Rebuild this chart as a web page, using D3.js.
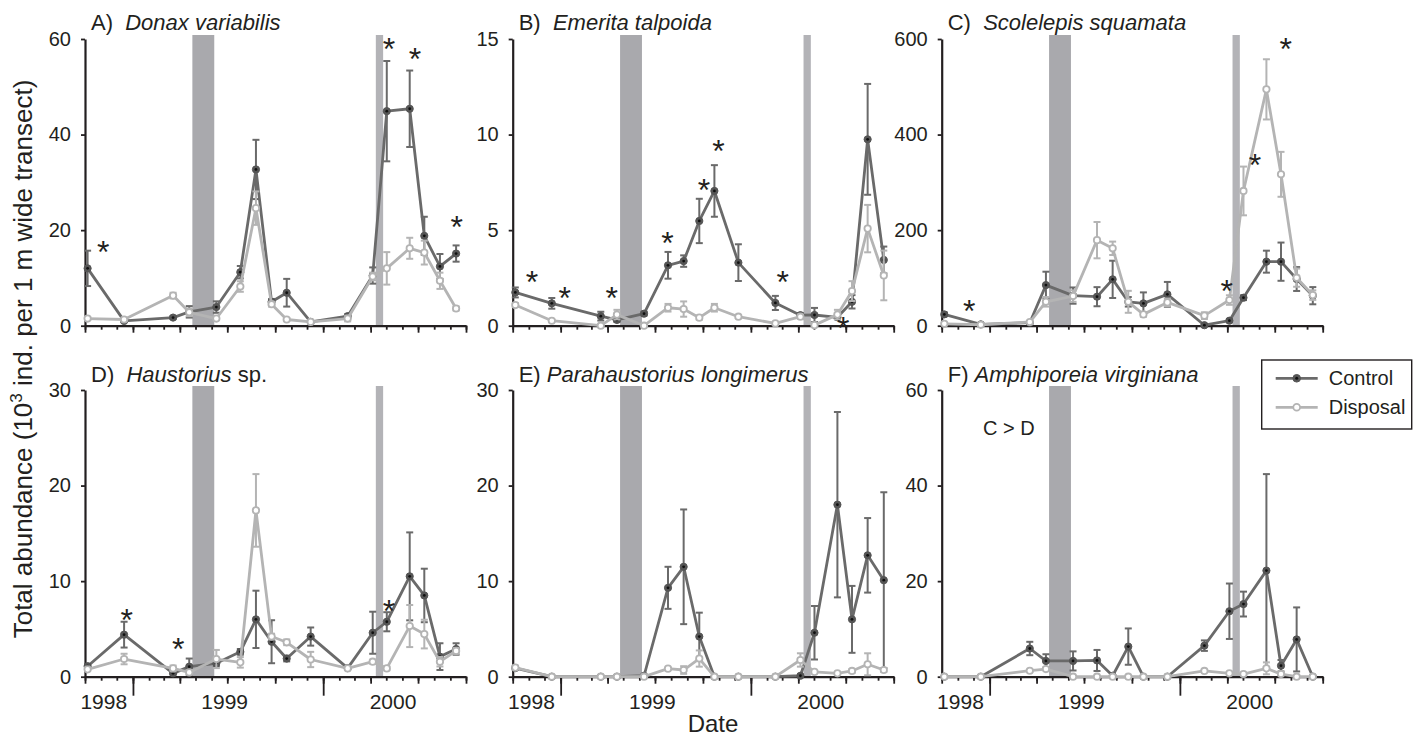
<!DOCTYPE html>
<html>
<head>
<meta charset="utf-8">
<script src="https://cdn.jsdelivr.net/npm/d3@7"></script>
<style>
  body { margin: 0; background: #fff; }
  svg { display: block; font-family: "Liberation Sans", Arial, Helvetica, sans-serif; }
</style>
</head>
<body>
<svg id="chart" width="1421" height="739"></svg>
<script>
// sampling dates shared by all six panels
const sampleDates = ["1998-10-06", "1998-12-15", "1999-03-19", "1999-04-19", "1999-06-10",
  "1999-07-26", "1999-08-25", "1999-09-24", "1999-10-23", "1999-12-08", "2000-02-17",
  "2000-04-05", "2000-05-02", "2000-06-15", "2000-07-13", "2000-08-12", "2000-09-12"];

// disposal periods (grey bands)
const disposalPeriods = [["1999-04-25", "1999-06-06"], ["2000-04-11", "2000-04-25"]];

const panelLetters = ["A)", "B)", "C)", "D)", "E)", "F)"];
const speciesNames = ["Donax variabilis", "Emerita talpoida", "Scolelepis squamata",
  "Haustorius", "Parahaustorius longimerus", "Amphiporeia virginiana"];
const speciesSuffix = ["", "", "", " sp.", "", ""];
const yMaxes = [60, 15, 600, 30, 30, 60];
const yTickValues = [[0, 20, 40, 60], [0, 5, 10, 15], [0, 200, 400, 600],
  [0, 10, 20, 30], [0, 10, 20, 30], [0, 20, 40, 60]];
const yearLabels = ["1998", "1999", "2000"];
const yearLabelDates = ["1998-11-06", "1999-06-26", "2000-05-14"];

// means and standard errors (10^3 ind.), one row per panel
const controlMean = [
  [12.0, 1.0, 1.7, 2.9, 3.9, 11.2, 32.7, 5.0, 6.9, 0.8, 2.0, 10.5, 44.9, 45.4, 18.8, 12.4, 15.1],
  [1.74, 1.17, 0.5, 0.3, 0.63, 3.16, 3.38, 5.48, 7.05, 3.3, 1.19, 0.55, 0.56, 0.44, 1.25, 9.75, 3.44],
  [23.7, 2.8, 6.3, 85, 63, 60.7, 97, 50, 46.7, 65.6, 1, 10.5, 58.6, 134, 134, 97.7, 62.8],
  [1.1, 4.4, 0.35, 1.05, 1.4, 2.6, 6.0, 3.66, 1.9, 4.2, 0.9, 4.6, 5.75, 10.5, 8.5, 2.1, 2.9],
  [0.9, 0, 0, 0, 0.1, 9.3, 11.5, 4.2, 0, 0, 0, 0.1, 4.6, 18.0, 6.0, 12.7, 10.1],
  [0, 0, 5.9, 3.3, 3.3, 3.4, 0.2, 6.3, 0, 0, 6.5, 13.7, 15.2, 22.2, 2.3, 7.8, 0]
];
const controlSE = [
  [3.7, 0.2, 0.3, 1.2, 1.2, 1.3, 6.2, 0.6, 2.9, 0.2, 0.4, 1.7, 10.5, 8.0, 4.0, 2.6, 1.7],
  [0.26, 0.28, 0.23, 0.1, 0.1, 0.7, 0.3, 1.16, 1.35, 0.96, 0.37, 0.1, 0.37, 0.1, 0.35, 2.9, 0.7],
  [4, 1, 2, 28, 17, 20, 39, 10, 23, 26, 2, 3, 5, 23, 40, 25, 18],
  [0.2, 1.35, 0.1, 0.85, 0.3, 0.3, 3.0, 2.25, 0.3, 0.95, 0.1, 2.2, 1.0, 4.6, 2.8, 1.4, 0.6],
  [0.2, 0, 0, 0, 0, 2.2, 6.0, 2.5, 0, 0, 0, 0, 2.8, 9.7, 3.5, 3.9, 9.2],
  [0, 0, 1.4, 1.4, 2.0, 2.2, 0, 3.8, 0, 0, 1.1, 5.8, 2.6, 20.2, 1.2, 6.7, 0]
];
const disposalMean = [
  [1.5, 1.3, 6.3, 2.8, 1.5, 8.2, 24.6, 4.5, 1.3, 0.8, 1.5, 10.3, 12.0, 16.2, 15.3, 9.4, 3.6],
  [1.08, 0.26, 0.0, 0.58, 0.0, 0.94, 0.87, 0.42, 0.94, 0.47, 0.12, 0.47, 0.03, 0.58, 1.81, 5.08, 2.63],
  [4, 2, 7.7, 50, 62, 179, 162, 50, 23.7, 48.8, 21, 53.7, 282, 494.6, 316.8, 100.5, 64],
  [0.77, 1.85, 0.87, 0.45, 1.85, 1.5, 17.4, 4.2, 3.6, 1.8, 0.87, 1.57, 0.87, 5.3, 4.46, 1.57, 2.7],
  [0.95, 0, 0, 0, 0, 0.84, 0.7, 1.9, 0, 0, 0, 1.75, 0.5, 0.35, 0.6, 1.3, 0.7],
  [0, 0, 1.25, 1.6, 0, 0, 0, 0, 0, 0, 1.2, 0.7, 0.55, 1.75, 0.55, 0, 0]
];
const disposalSE = [
  [0.3, 0.3, 0.6, 0.8, 0.3, 1.1, 3.5, 0.5, 0.3, 0.2, 0.6, 0.8, 3.4, 2.2, 2.5, 1.7, 0.4],
  [0.1, 0.05, 0, 0.25, 0, 0.2, 0.4, 0.1, 0.2, 0.08, 0.05, 0.1, 0.05, 0.25, 0.52, 1.24, 1.3],
  [2, 1, 2, 10, 12, 38, 14, 23, 5, 8, 7, 10, 51, 63, 47, 19, 10],
  [0.1, 0.55, 0.3, 0.1, 0.95, 0.55, 3.8, 0.3, 0.3, 0.8, 0.1, 0.2, 0.2, 2.2, 1.5, 0.5, 0.3],
  [0.2, 0, 0, 0, 0, 0.1, 0.4, 0.85, 0, 0, 0, 0.7, 0.1, 0.1, 0.2, 1.15, 0.2],
  [0, 0, 0.2, 0.2, 0, 0, 0, 0, 0, 0, 0.2, 0.2, 0.2, 1.25, 0.2, 0, 0]
];

// significance stars [date, height] per panel
const starMarks = [
  [["1998-11-05", 17.2], ["2000-05-06", 59.6], ["2000-06-25", 57.6], ["2000-09-13", 22.3]],
  [["1998-11-07", 2.74], ["1999-01-09", 1.9], ["1999-04-09", 1.9], ["1999-07-25", 4.78],
   ["1999-10-03", 7.53], ["1999-10-31", 9.58], ["2000-03-02", 2.74], ["2000-06-26", 0.3]],
  [["1998-11-23", 46.9], ["2000-03-31", 90], ["2000-05-24", 353.7], ["2000-07-22", 596.5]],
  [["1998-12-20", 6.8], ["1999-03-29", 3.8], ["2000-05-06", 7.7]],
  [],
  []
];
// text note in panel F
const noteText = ["", "", "", "", "", "C > D"];
const notePos = [null, null, null, null, null, ["1999-02-07", 50.6]];

const parse = d3.utcParse("%Y-%m-%d");
const dates = sampleDates.map(parse);

const svg = d3.select("#chart");
const colX = [85, 512.7, 941.7];
const rowY = [39, 390];
const plotW = 381, plotH = 286.7;
const ink = "#231f20";
const controlColor = "#6a6a6a";
const disposalColor = "#b4b4b4";

const x = d3.scaleUtc()
  .domain([parse("1998-10-01"), parse("2000-10-01")])
  .range([0, plotW]);

panelLetters.forEach((letter, i) => drawPanel(i));

function drawPanel(i) {
  const row = Math.floor(i / 3), col = i % 3;
  const g = svg.append("g").attr("transform", `translate(${colX[col]},${rowY[row]})`);
  const y = d3.scaleLinear().domain([0, yMaxes[i]]).range([plotH, 0]);

  // disposal bands
  g.selectAll("rect.band")
    .data(disposalPeriods)
    .enter().append("rect")
      .attr("x", d => x(parse(d[0])))
      .attr("width", d => x(parse(d[1])) - x(parse(d[0])))
      .attr("y", -4)
      .attr("height", plotH + 4)
      .attr("fill", (d, k) => k == 0 ? "#a9a9ad" : "#b3b3b7");

  // x axis: monthly minor ticks, quarterly major ticks, year ticks on the bottom row
  const minor = g.append("g").attr("transform", `translate(0,${plotH})`)
    .call(d3.axisBottom(x).ticks(d3.utcMonth.every(1)).tickSize(4).tickSizeOuter(0).tickFormat(""));
  const major = g.append("g").attr("transform", `translate(0,${plotH})`)
    .call(d3.axisBottom(x).ticks(d3.utcMonth.every(3)).tickSize(7).tickSizeOuter(0).tickFormat(""));
  minor.select(".domain").remove();
  major.select(".domain").attr("stroke-width", 2.2).attr("stroke", ink);
  if (row == 1) {
    const yrs = g.append("g").attr("transform", `translate(0,${plotH})`)
      .call(d3.axisBottom(x).tickValues([parse("1999-01-01"), parse("2000-01-01")])
        .tickSize(19).tickSizeOuter(0).tickFormat(""));
    yrs.select(".domain").remove();
    g.selectAll("text.year")
      .data(yearLabels)
      .enter().append("text")
        .attr("x", (d, k) => x(parse(yearLabelDates[k])))
        .attr("y", plotH + 32)
        .attr("text-anchor", "middle")
        .attr("font-size", 21)
        .attr("fill", ink)
        .text(d => d);
  }
  g.selectAll(".tick line").attr("stroke", ink).attr("stroke-width", 1.8);

  // y axis
  const ya = g.append("g")
    .call(d3.axisLeft(y).tickValues(yTickValues[i]).tickSize(4).tickPadding(10).tickSizeOuter(0));
  ya.select(".domain").attr("stroke", ink).attr("stroke-width", 2.2);
  ya.selectAll("line").attr("stroke", ink).attr("stroke-width", 1.8);
  ya.selectAll("text").attr("font-size", 20).attr("fill", ink)
    .attr("font-family", "'Liberation Sans', Arial, sans-serif");

  // panel title
  const title = g.append("text").attr("x", 6).attr("y", row == 0 ? -9 : -8.5)
    .attr("font-size", 22).attr("fill", ink);
  title.append("tspan").text(panelLetters[i] + (i < 4 ? "\u00a0\u00a0" : "\u00a0"));
  title.append("tspan").attr("font-style", "italic").text(speciesNames[i]);
  if (speciesSuffix[i]) title.append("tspan").text(speciesSuffix[i]);

  drawSeries(g, y, controlMean[i], controlSE[i], controlColor, true);
  drawSeries(g, y, disposalMean[i], disposalSE[i], disposalColor, false);

  // stars
  g.selectAll("text.star")
    .data(starMarks[i])
    .enter().append("text")
      .attr("x", d => x(parse(d[0])))
      .attr("y", d => y(d[1]))
      .attr("dy", "0.6em")
      .attr("text-anchor", "middle")
      .attr("font-size", 32)
      .attr("fill", ink)
      .text("*");

  if (noteText[i]) {
    g.append("text")
      .attr("x", x(parse(notePos[i][0])))
      .attr("y", y(notePos[i][1]))
      .attr("text-anchor", "middle")
      .attr("font-size", 20)
      .attr("fill", ink)
      .text(noteText[i]);
  }
}

function drawSeries(g, y, means, ses, color, filled) {
  const pts = means.map((m, j) => ({date: dates[j], m: m, se: ses[j]}));

  // error bars
  const eb = g.append("g").attr("stroke", color).attr("stroke-width", 2);
  pts.filter(d => d.se > 0).forEach(d => {
    const cx = x(d.date), lo = y(Math.max(0, d.m - d.se)), hi = y(d.m + d.se);
    eb.append("line").attr("x1", cx).attr("x2", cx).attr("y1", lo).attr("y2", hi);
    eb.append("line").attr("x1", cx - 3.5).attr("x2", cx + 3.5).attr("y1", lo).attr("y2", lo);
    eb.append("line").attr("x1", cx - 3.5).attr("x2", cx + 3.5).attr("y1", hi).attr("y2", hi);
  });

  g.append("path")
    .datum(pts)
    .attr("fill", "none")
    .attr("stroke", color)
    .attr("stroke-width", 2.8)
    .attr("stroke-linejoin", "round")
    .attr("d", d3.line().x(d => x(d.date)).y(d => y(d.m)));

  g.selectAll(null)
    .data(pts)
    .enter().append("circle")
      .attr("cx", d => x(d.date))
      .attr("cy", d => y(d.m))
      .attr("r", filled ? 3.6 : 3.2)
      .attr("fill", filled ? "#555" : "#fff")
      .attr("stroke", filled ? "#555" : color)
      .attr("stroke-width", filled ? 1 : 1.8);
  if (filled) {
    g.selectAll(null)
      .data(pts)
      .enter().append("circle")
        .attr("cx", d => x(d.date))
        .attr("cy", d => y(d.m))
        .attr("r", 1.4)
        .attr("fill", "#111");
  }
}

// shared axis titles
svg.append("text")
  .attr("transform", "translate(31.5,359) rotate(-90)")
  .attr("text-anchor", "middle")
  .attr("font-size", 26)
  .attr("fill", ink)
  .call(t => {
    t.append("tspan").text("Total abundance (10");
    t.append("tspan").attr("font-size", 17).attr("dy", -10).text("3");
    t.append("tspan").attr("dy", 10).text(" ind. per 1 m wide transect)");
  });

svg.append("text")
  .attr("x", 713).attr("y", 732)
  .attr("text-anchor", "middle")
  .attr("font-size", 24)
  .attr("fill", ink)
  .text("Date");

// legend
const legendNames = ["Control", "Disposal"];
const legend = svg.append("g").attr("transform", "translate(1261.7,360)");
legend.append("rect").attr("width", 150).attr("height", 69)
  .attr("fill", "#fff").attr("stroke", ink).attr("stroke-width", 1.4);
legendNames.forEach((name, k) => {
  const ly = 18.3 + k * 29;
  const c = k == 0 ? controlColor : disposalColor;
  legend.append("line").attr("x1", 14).attr("x2", 56).attr("y1", ly).attr("y2", ly)
    .attr("stroke", c).attr("stroke-width", 2.8);
  legend.append("circle").attr("cx", 35).attr("cy", ly).attr("r", k == 0 ? 3.8 : 3.4)
    .attr("fill", k == 0 ? "#555" : "#fff").attr("stroke", k == 0 ? "#555" : c)
    .attr("stroke-width", k == 0 ? 1 : 1.8);
  if (k == 0) legend.append("circle").attr("cx", 35).attr("cy", ly).attr("r", 1.5).attr("fill", "#111");
  legend.append("text").attr("x", 67).attr("y", ly + 7).attr("font-size", 20).attr("fill", ink).text(name);
});
</script>
</body>
</html>
